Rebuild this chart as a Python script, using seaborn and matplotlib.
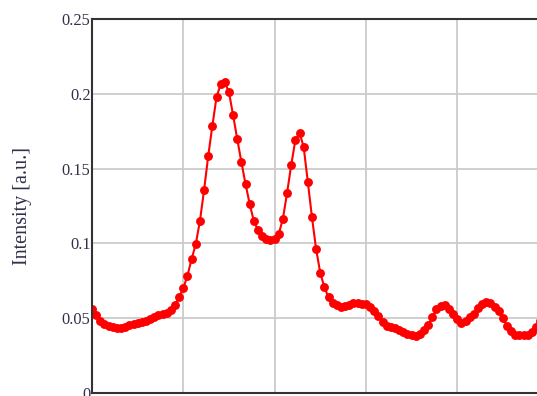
import numpy as np
import pandas as pd
import matplotlib
matplotlib.use("Agg")
import matplotlib.pyplot as plt
import seaborn as sns

# Intensity values (evenly spaced samples)
intensity = [
    0.0560, 0.0520, 0.0478, 0.0458, 0.0447, 0.0440, 0.0437, 0.0437, 0.0442, 0.0452,
    0.0458, 0.0465, 0.0472, 0.0480, 0.0496, 0.0510, 0.0520, 0.0527, 0.0537, 0.0555,
    0.0590, 0.0640, 0.0700, 0.0785, 0.0895, 0.0995, 0.1149, 0.1355, 0.1583, 0.1786,
    0.1977, 0.2064, 0.2076, 0.2011, 0.1857, 0.1697, 0.1543, 0.1396, 0.1263, 0.1149,
    0.1089, 0.1049, 0.1029, 0.1022, 0.1029, 0.1063, 0.1165, 0.1336, 0.1523, 0.1690,
    0.1739, 0.1646, 0.1412, 0.1176, 0.0962, 0.0804, 0.0706, 0.0639, 0.0600, 0.0585,
    0.0578, 0.0580, 0.0590, 0.0603, 0.0603, 0.0598, 0.0592, 0.0575, 0.0545, 0.0515,
    0.0475, 0.0450, 0.0440, 0.0432, 0.0420, 0.0407, 0.0396, 0.0388, 0.0381, 0.0395,
    0.0420, 0.0455, 0.0505, 0.0560, 0.0580, 0.0585, 0.0560, 0.0530, 0.0495, 0.0470,
    0.0478, 0.0505, 0.0530, 0.0565, 0.0595, 0.0610, 0.0600, 0.0575, 0.0545, 0.0500,
    0.0450, 0.0415, 0.0390, 0.0385, 0.0385, 0.0387, 0.0405, 0.0443, 0.0480,
]
sample_index = np.arange(len(intensity))
position = sample_index / 22.0

y_ticks = [0, 0.05, 0.1, 0.15, 0.2, 0.25]
y_tick_labels = ["0", "0.05", "0.1", "0.15", "0.2", "0.25"]
x_grid = [1, 2, 3, 4]
y_label = "Intensity [a.u.]"

df = pd.DataFrame({"position": position, "intensity": intensity})

sns.set_theme(style="white")
plt.rcParams["font.family"] = ["Liberation Serif", "DejaVu Serif"]

fig = plt.figure(figsize=(5.37, 3.96), dpi=100)
ax = fig.add_axes([92 / 537, 3 / 396, 456.5 / 537, 374 / 396])

sns.lineplot(data=df, x="position", y="intensity", ax=ax, color="#ff0000",
             linewidth=1.5, marker="o", markersize=6.4, markeredgewidth=0,
             markerfacecolor="#ff0000")

ax.set_xlim(0, 5)
ax.set_ylim(0, 0.25)
ax.set_xticks(x_grid)
ax.set_xticklabels([])
ax.set_yticks(y_ticks)
ax.set_yticklabels(y_tick_labels)
ax.grid(True, color="#cccccc", linewidth=1.3)
ax.set_axisbelow(True)
ax.tick_params(axis="both", length=0, labelsize=11.8, colors="#30304a", pad=1)
ax.set_xlabel("")
ax.set_ylabel(y_label, fontsize=14.5, color="#30304a")
ax.yaxis.set_label_coords(-0.131, 0.5)
for side in ["left", "bottom", "top", "right"]:
    ax.spines[side].set_color("#333333")
    ax.spines[side].set_linewidth(1.5)

fig.savefig("out.png", dpi=100)
